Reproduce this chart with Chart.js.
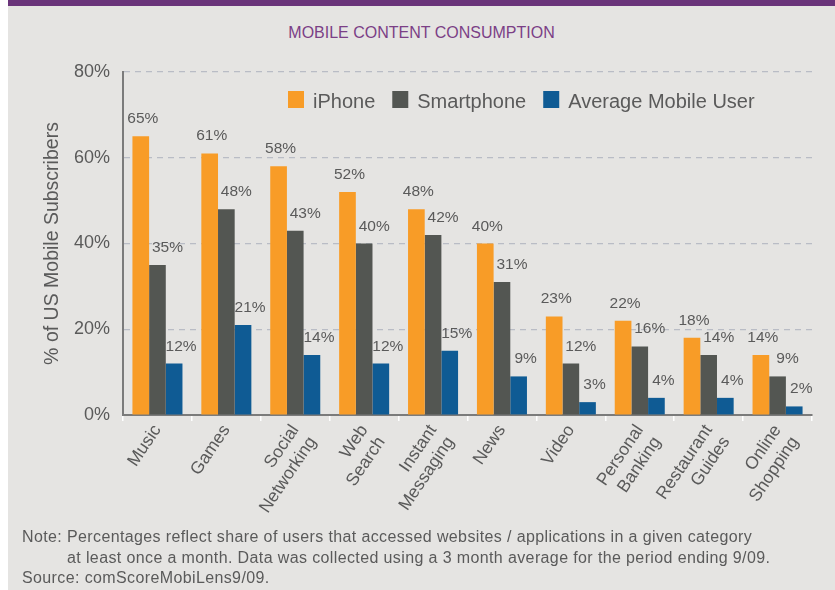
<!DOCTYPE html>
<html>
<head>
<meta charset="utf-8">
<script src="https://cdn.jsdelivr.net/npm/chart.js@4.4.1/dist/chart.umd.min.js"></script>
<style>
  body { margin: 0; background: #ffffff; font-family: "Liberation Sans", Arial, sans-serif; }
  #frame { position: absolute; left: 8px; top: 0; width: 827px; height: 590px; background: #e5e4e2; }
  #topbar { position: absolute; left: 8px; top: 0; width: 827px; height: 6px; background: #6a347a; }
  #title { position: absolute; left: 8px; width: 827px; top: 25px; text-align: center;
           font-size: 16px; line-height: 16px; color: #7b3f86; }
  #note { position: absolute; left: 22px; top: 527px; font-size: 16px; line-height: 20.5px;
          letter-spacing: 0.38px; color: #5a5a5a; white-space: nowrap; }
  #note .indent { padding-left: 45px; }
  #wrap { position: absolute; left: 0; top: 0; width: 835px; height: 590px; }
</style>
</head>
<body>
<div id="frame"></div>
<div id="topbar"></div>
<div id="title">MOBILE CONTENT CONSUMPTION</div>
<div id="wrap"><canvas id="myChart" width="835" height="590"></canvas></div>
<div id="note">
  <div>Note: Percentages reflect share of users that accessed websites / applications in a given category</div>
  <div class="indent">at least once a month. Data was collected using a 3 month average for the period ending 9/09.</div>
  <div>Source: comScoreMobiLens9/09.</div>
</div>
<script>
const categories = [
    ['Music'], ['Games'], ['Social', 'Networking'], ['Web', 'Search'], ['Instant', 'Messaging'],
    ['News'], ['Video'], ['Personal', 'Banking'], ['Restaurant', 'Guides'], ['Online', 'Shopping']
];
const seriesNames = ['iPhone', 'Smartphone', 'Average Mobile User'];
const iphone = [65, 61, 58, 52, 48, 40, 23, 22, 18, 14];
const smartphone = [35, 48, 43, 40, 42, 31, 12, 16, 14, 9];
const averageUser = [12, 21, 14, 12, 15, 9, 3, 4, 4, 2];
const yTicks = [0, 20, 40, 60, 80];

const colors = ['#f89c27', '#535652', '#0f5b94'];
const textColor = '#5a5a5a';
const fontFamily = '"Liberation Sans", Arial, sans-serif';

// value labels above each bar (the original nudges the grey and blue ones right)
const labelOffsets = [2, 10, 7];
const valueLabels = {
    id: 'valueLabels',
    afterDatasetsDraw(chart) {
        const ctx = chart.ctx;
        ctx.save();
        ctx.font = '15.5px ' + fontFamily;
        ctx.fillStyle = textColor;
        ctx.textAlign = 'center';
        ctx.textBaseline = 'alphabetic';
        chart.data.datasets.forEach((ds, i) => {
            chart.getDatasetMeta(i).data.forEach((bar, j) => {
                ctx.fillText(ds.data[j] + '%', bar.x + labelOffsets[i], bar.y - 13);
            });
        });
        ctx.restore();
    }
};

// legend drawn inside the plot area, top right
const innerLegend = {
    id: 'innerLegend',
    afterDraw(chart) {
        const ctx = chart.ctx;
        ctx.save();
        ctx.font = '20px ' + fontFamily;
        ctx.textBaseline = 'alphabetic';
        let x = 288;
        chart.data.datasets.forEach(ds => {
            ctx.fillStyle = ds.backgroundColor;
            ctx.fillRect(x, 91, 16, 17);
            x += 25;
            ctx.fillStyle = textColor;
            ctx.fillText(ds.label, x, 108);
            x += ctx.measureText(ds.label).width + 17;
        });
        ctx.restore();
    }
};

const ctx = document.getElementById('myChart').getContext('2d');
new Chart(ctx, {
    type: 'bar',
    data: {
        labels: categories,
        datasets: [iphone, smartphone, averageUser].map((values, i) => ({
            label: seriesNames[i],
            data: values,
            backgroundColor: colors[i],
            categoryPercentage: 0.726,
            barPercentage: 1.0,
        })),
    },
    options: {
        responsive: false,
        animation: false,
        layout: { padding: { left: 0, right: 23, top: 72, bottom: 0 } },
        plugins: {
            legend: { display: false },
            tooltip: { enabled: false },
        },
        scales: {
            x: {
                afterFit(scale) { scale.height = 175; },
                grid: {
                    offset: true,
                    drawOnChartArea: false,
                    drawTicks: true,
                    tickLength: 6,
                    color: '#ffffff',
                    lineWidth: 1.5,
                },
                border: { color: '#7b7b7b', width: 2 },
                ticks: {
                    minRotation: 56,
                    maxRotation: 56,
                    padding: 0,
                    color: textColor,
                    font: { family: fontFamily, size: 17.5 },
                },
            },
            y: {
                min: 0,
                max: 80,
                afterFit(scale) { scale.width = 123; },
                afterBuildTicks(scale) { scale.ticks = yTicks.map(v => ({ value: v })); },
                grid: {
                    drawTicks: false,
                    color: c => (c.tick && c.tick.value === 0 ? 'rgba(0,0,0,0)' : '#b9bcc5'),
                    lineWidth: 1.2,
                },
                border: { color: '#7b7b7b', width: 2, dash: [6, 5] },
                ticks: {
                    padding: 13,
                    color: textColor,
                    font: { family: fontFamily, size: 18 },
                    callback: v => v + '%',
                },
                title: {
                    display: true,
                    text: '% of US Mobile Subscribers',
                    color: textColor,
                    font: { family: fontFamily, size: 19.5 },
                    padding: { top: 41, bottom: 0 },
                },
            },
        },
    },
    plugins: [valueLabels, innerLegend],
});
</script>
</body>
</html>
